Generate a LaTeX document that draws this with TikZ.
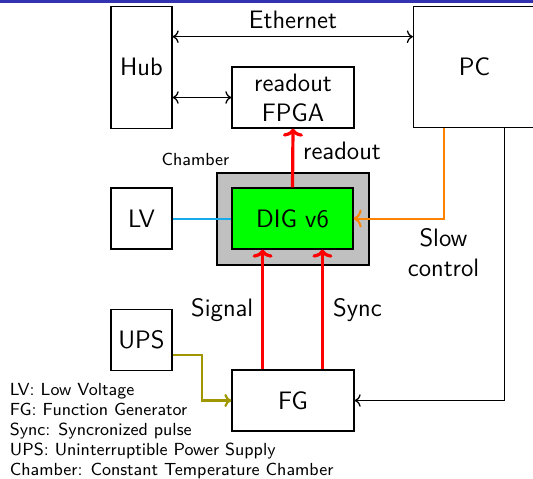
\documentclass[tikz,border=0pt]{standalone}
\usepackage{fontspec}
\usetikzlibrary{arrows.meta,calc}
\definecolor{barblue}{RGB}{51,51,178}
\definecolor{chgray}{RGB}{192,192,192}
\definecolor{diggreen}{RGB}{0,255,0}
\definecolor{slowor}{RGB}{255,130,0}
\definecolor{upsol}{RGB}{160,150,0}
\definecolor{lvblue}{RGB}{20,170,235}
\begin{document}
\begin{tikzpicture}[x=0.5pt,y=-0.5pt,
  every node/.style={font=\sffamily\fontsize{12.6}{15}\selectfont},
  box/.style={draw,line width=0.65pt,inner sep=0pt,align=center},
  smallfont/.style={font=\sffamily\fontsize{8.75}{10}\selectfont},
  blk/.style={line width=0.65pt},
  blktip/.style={-{To[length=3pt,width=6.3pt]}},
  blktips/.style={{To[length=3pt,width=6.3pt]}-{To[length=3pt,width=6.3pt]}},
  redline/.style={draw=red,line width=1.6pt,-{To[length=4pt,width=10pt]}},
  orline/.style={draw=slowor,line width=1pt,-{To[length=4pt,width=9pt]}},
  olline/.style={draw=upsol,line width=1.1pt,-{To[length=3.5pt,width=6.5pt]}},
  lvline/.style={draw=lvblue,line width=1pt}
]
\useasboundingbox (0,0) rectangle (533,478);
\fill[barblue] (0,0) rectangle (533,3.3);

% boxes
\node[box,minimum width=30.5pt,minimum height=61pt] (hub) at (141.5,67.2) {Hub};
\node[box,minimum width=61pt,minimum height=30.5pt] (fpga) at (293,97.5) {readout\\FPGA};
\node[box,minimum width=61pt,minimum height=60.5pt] (pc) at (474.5,67) {PC};
\node[draw,line width=1.35pt,fill=chgray,minimum width=76pt,minimum height=46pt] (chamber) at (293,219) {};
\node[box,fill=diggreen,minimum width=60.5pt,minimum height=30.5pt] (dig) at (292.5,218.5) {DIG v6};
\node[box,minimum width=30.5pt,minimum height=30.5pt] (lv) at (141.5,218.5) {LV};
\node[box,minimum width=30.5pt,minimum height=30.5pt] (ups) at (141.5,340) {UPS};
\node[box,minimum width=61pt,minimum height=30.5pt] (fg) at (293,400.5) {FG};

% labels
\node[anchor=base] (ethlabel) at (293,28.3) {Ethernet};
\node[anchor=base west,inner sep=0pt] (rolabel) at (302.7,159.3) {readout};
\node[smallfont] (chlabel) at (195.5,159) {Chamber};
\node[align=center,inner sep=0pt] (sclabel) at (443.5,253) {Slow\\control};
\node[anchor=base] (siglabel) at (222.2,316) {Signal};
\node[anchor=base] (synclabel) at (357.5,316) {Sync};
\node[smallfont,align=left,anchor=north west,inner sep=0pt] (legend) at (9.5,382.6)
  {LV: Low Voltage\\FG: Function Generator\\Sync: Syncronized pulse\\UPS: Uninterruptible Power Supply\\Chamber: Constant Temperature Chamber};

% connectors
\coordinate (eth) at (293,36.7);
\draw[blk,blktips] (eth -| hub.east) -- (eth -| pc.west);
\draw[blk,blktips] (fpga.west -| hub.east) -- (fpga.west);
\draw[redline] (dig.north) -- (fpga.south);
\coordinate (orx) at (444.3,0);
\draw[orline] (pc.south -| orx) |- (dig.east);
\draw[lvline] (lv.east) -- (dig.west);
\coordinate (olv) at (202.3,355);
\draw[olline] (olv -| ups.east) -- (olv) |- (fg.west);
\coordinate (bkx) at (504.5,0);
\draw[blk,blktip] (pc.south -| bkx) |- (fg.east);
\coordinate (sigx) at (262.6,0);
\coordinate (syncx) at (322.4,0);
\draw[redline] (fg.north -| sigx) -- (dig.south -| sigx);
\draw[redline] (fg.north -| syncx) -- (dig.south -| syncx);
\end{tikzpicture}
\end{document}
